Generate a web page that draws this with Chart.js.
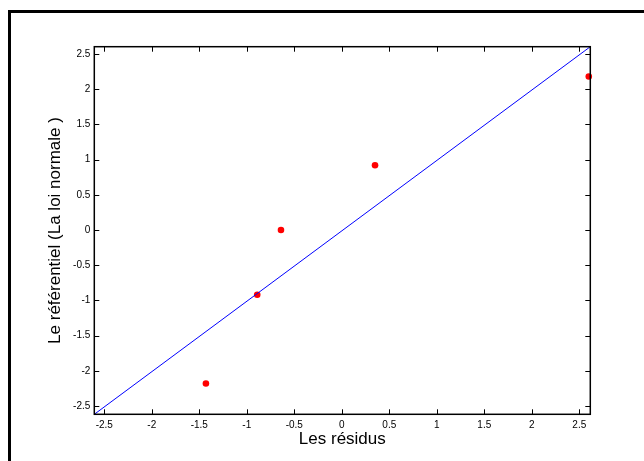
<!DOCTYPE html>
<html>
<head>
<meta charset="utf-8">
<script src="https://cdn.jsdelivr.net/npm/chart.js@4/dist/chart.umd.min.js"></script>
<style>
  html, body { margin: 0; padding: 0; background: #fff; }
  canvas { display: block; }
</style>
</head>
<body>
<canvas id="normplot" width="644" height="461"></canvas>
<script>
// valeurs
const residus = [-1.43, -0.89, -0.64, 0.35, 2.6];
const referentiel = [-2.18, -0.92, 0, 0.92, 2.18];
// droite de référence
const droiteX = [-2.605, 2.616];
const droiteY = [-2.618, 2.604];
// graduations
const xTicks = [-2.5, -2, -1.5, -1, -0.5, 0, 0.5, 1, 1.5, 2, 2.5];
const yTicks = [-2.5, -2, -1.5, -1, -0.5, 0, 0.5, 1, 1.5, 2, 2.5];

const police = '"Liberation Sans", Arial, sans-serif';

// cadre de la figure + boite des axes avec graduations vers l'intérieur
const cadrePlugin = {
  id: 'cadre',
  beforeDraw(chart) {
    const c = chart.ctx;
    c.save();
    c.fillStyle = '#fff';
    c.fillRect(0, 0, chart.width, chart.height);
    c.strokeStyle = '#000';
    c.lineWidth = 3;
    c.strokeRect(9.5, 11.5, 700, 500);
    c.restore();
  },
  afterDatasetsDraw(chart) {
    const c = chart.ctx;
    const a = chart.chartArea;
    const sx = chart.scales.x, sy = chart.scales.y;
    c.save();
    c.strokeStyle = '#000';
    c.lineWidth = 1;
    c.beginPath();
    xTicks.forEach(v => {
      const px = Math.round(sx.getPixelForValue(v)) + 0.5;
      c.moveTo(px, a.bottom); c.lineTo(px, a.bottom - 5);
      c.moveTo(px, a.top); c.lineTo(px, a.top + 5);
    });
    yTicks.forEach(v => {
      const py = Math.round(sy.getPixelForValue(v)) + 0.5;
      c.moveTo(a.left, py); c.lineTo(a.left + 5, py);
      c.moveTo(a.right, py); c.lineTo(a.right - 5, py);
    });
    c.stroke();
    c.lineWidth = 1.5;
    c.strokeRect(a.left, a.top, a.right - a.left, a.bottom - a.top);
    c.restore();
  }
};

new Chart(document.getElementById('normplot'), {
  type: 'scatter',
  data: {
    datasets: [
      {
        label: 'droite',
        data: droiteX.map((x, i) => ({ x: x, y: droiteY[i] })),
        showLine: true,
        borderColor: '#0000ff',
        borderWidth: 1,
        pointRadius: 0,
        fill: false
      },
      {
        label: 'points',
        data: residus.map((x, i) => ({ x: x, y: referentiel[i] })),
        backgroundColor: '#ff0000',
        borderWidth: 0,
        pointRadius: 3.3,
        clip: false
      }
    ]
  },
  options: {
    responsive: false,
    animation: false,
    devicePixelRatio: 1,
    layout: { padding: { top: 46.7, right: 53.7, left: 0, bottom: 0 } },
    plugins: {
      legend: { display: false },
      tooltip: { enabled: false }
    },
    scales: {
      x: {
        type: 'linear',
        min: -2.605,
        max: 2.616,
        afterBuildTicks: s => { s.ticks = xTicks.map(v => ({ value: v })); },
        afterFit: s => { s.height = 46.7; },
        grid: { display: false, drawTicks: false },
        border: { display: false },
        ticks: {
          color: '#000',
          padding: 5,
          maxRotation: 0,
          autoSkip: false,
          font: { family: police, size: 10 },
          callback: v => String(v)
        },
        title: {
          display: true,
          text: 'Les résidus',
          color: '#000',
          font: { family: police, size: 17 },
          padding: { top: 0, bottom: 11 }
        }
      },
      y: {
        type: 'linear',
        min: -2.618,
        max: 2.604,
        afterBuildTicks: s => { s.ticks = yTicks.map(v => ({ value: v })); },
        afterFit: s => { s.width = 94.3; },
        grid: { display: false, drawTicks: false },
        border: { display: false },
        ticks: {
          color: '#000',
          padding: 4,
          autoSkip: false,
          font: { family: police, size: 10 },
          callback: v => String(v)
        },
        title: {
          display: true,
          text: 'Le référentiel (La loi normale )',
          color: '#000',
          font: { family: police, size: 17 },
          padding: { top: 45, bottom: 0 }
        }
      }
    }
  },
  plugins: [cadrePlugin]
});
</script>
</body>
</html>
